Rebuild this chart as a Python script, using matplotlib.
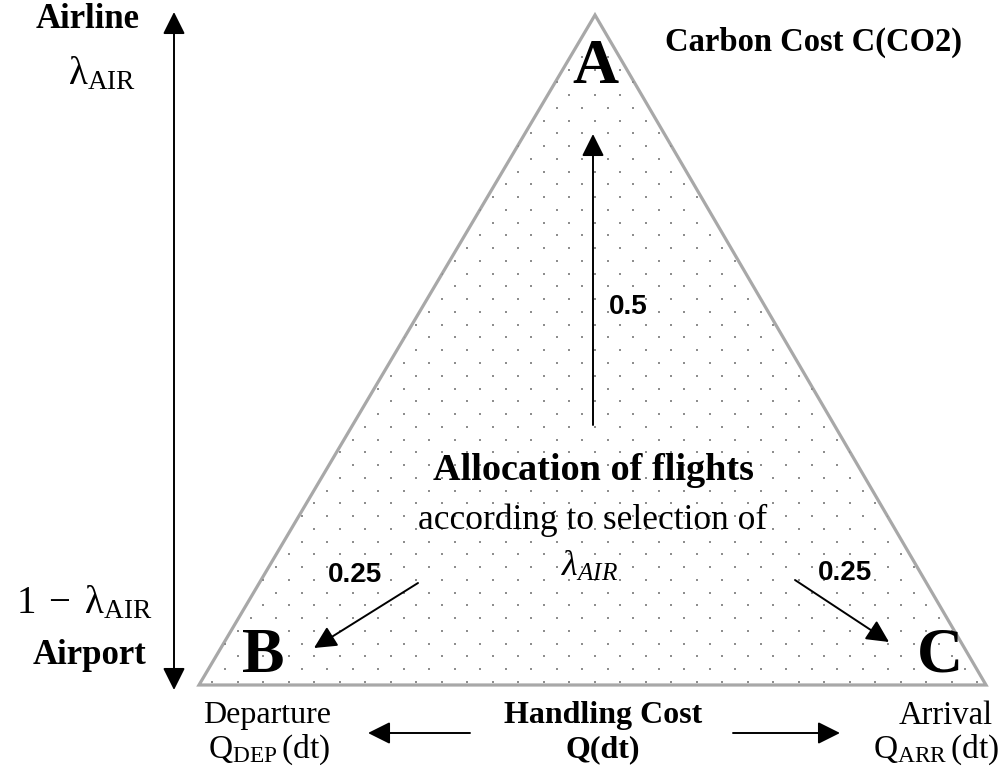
import numpy as np
import matplotlib.pyplot as plt
from matplotlib.patches import Polygon

plt.rcParams['mathtext.fontset'] = 'custom'
plt.rcParams['mathtext.rm'] = 'Liberation Serif'
plt.rcParams['mathtext.it'] = 'Liberation Serif:italic'
plt.rcParams['mathtext.bf'] = 'Liberation Serif:bold'

# diagram content
corner_names = ["A", "B", "C"]
flow_shares = [0.5, 0.25, 0.25]          # A (up), B (down-left), C (down-right)
top_label = "Carbon Cost C(CO2)"
centre_title = "Allocation of flights"
centre_sub = "according to selection of"
axis_top = ["Airline", r"$\mathrm{λ}_{\mathrm{AIR}}$"]
axis_bottom = [r"$\mathrm{1}\;-\;\mathrm{λ}_{\mathrm{AIR}}$", "Airport"]
bottom_left = ["Departure", r"$\mathrm{Q}_{\mathrm{DEP}}\,\mathrm{(dt)}$"]
bottom_mid = ["Handling Cost", "Q(dt)"]
bottom_right = ["Arrival", r"$\mathrm{Q}_{\mathrm{ARR}}\,\mathrm{(dt)}$"]

serif = "Liberation Serif"
sans = "Liberation Sans"

fig = plt.figure(figsize=(10.02, 7.71), dpi=100)
ax = fig.add_axes([0, 0, 1, 1])
ax.set_xlim(0, 1002)
ax.set_ylim(771, 0)
ax.axis("off")

# triangle (pixel layout)
tri = np.array([[595, 15], [199, 685], [986, 685]])
patch = Polygon(tri, closed=True, facecolor="white", edgecolor="#a8a8a8", lw=2.3, zorder=2)
ax.add_patch(patch)

# dotted fill pattern
kk, jj = np.meshgrid(np.arange(-32, 33), np.arange(0, 52))
mask = (kk + jj) % 2 == 0
px = 595 + 12.75 * kk[mask]
py = 44 + 12.76 * jj[mask]
dots = ax.scatter(px, py, s=4, marker="s", color="#8e8e8e", lw=0, zorder=3)
dots.set_clip_path(patch)

# corner letters
corner_pos = [(595, 68), (263, 657), (940, 657)]
for name, (x, y) in zip(corner_names, corner_pos):
    ax.text(x, y, name, family=serif, weight="bold", fontsize=46,
            ha="center", va="center", zorder=5)

ax.text(665, 42, top_label, family=serif, weight="bold", fontsize=23.5,
        ha="left", va="center")

arrow = dict(arrowstyle="-|>,head_length=0.8,head_width=0.4", color="black",
             lw=1.4, mutation_scale=17, shrinkA=0, shrinkB=0)

# share arrows from centre to corners
share_arrows = [((593, 425), (593, 134)), ((418, 583), (314, 648)), ((795, 580), (889, 642))]
share_text = [(609, 307, "left"), (355, 575, "center"), (845, 573, "center")]
for share, (tail, head), (tx, ty, ha) in zip(flow_shares, share_arrows, share_text):
    ax.annotate("", xy=head, xytext=tail, arrowprops=arrow, zorder=6)
    ax.text(tx, ty, f"{share:g}", family=sans, weight="bold", fontsize=20,
            ha=ha, va="center", zorder=6)

# centre text
ax.text(593, 470, centre_title, family=serif, weight="bold", fontsize=27.5,
        ha="center", va="center", zorder=6)
ax.text(593, 520, centre_sub, family=serif, fontsize=25.5,
        ha="center", va="center", zorder=6)
ax.text(590, 566, r"$\lambda_{AIR}$", fontsize=26, ha="center", va="center", zorder=6)

# left vertical axis
ax.annotate("", xy=(174, 12), xytext=(174, 690),
            arrowprops=dict(arrow, arrowstyle="<|-|>,head_length=0.8,head_width=0.4"))
ax.text(88, 20, axis_top[0], family=serif, weight="bold", fontsize=25, ha="center", va="center")
ax.text(102, 73, axis_top[1], fontsize=28, ha="center", va="center")
ax.text(84, 602, axis_bottom[0], fontsize=28, ha="center", va="center")
ax.text(90, 655, axis_bottom[1], family=serif, weight="bold", fontsize=25, ha="center", va="center")

# bottom labels
ax.text(267, 716, bottom_left[0], family=serif, fontsize=23, ha="center", va="center")
ax.text(269, 750, bottom_left[1], fontsize=24, ha="center", va="center")
ax.text(603, 716, bottom_mid[0], family=serif, weight="bold", fontsize=23, ha="center", va="center")
ax.text(603, 750, bottom_mid[1], family=serif, weight="bold", fontsize=23, ha="center", va="center")
ax.text(993, 716, bottom_right[0], family=serif, fontsize=23.5, ha="right", va="center")
ax.text(999, 750, bottom_right[1], fontsize=24, ha="right", va="center")
ax.annotate("", xy=(368, 733), xytext=(470, 733), arrowprops=arrow)
ax.annotate("", xy=(840, 733), xytext=(733, 733), arrowprops=arrow)

fig.savefig("out.png", dpi=100)
